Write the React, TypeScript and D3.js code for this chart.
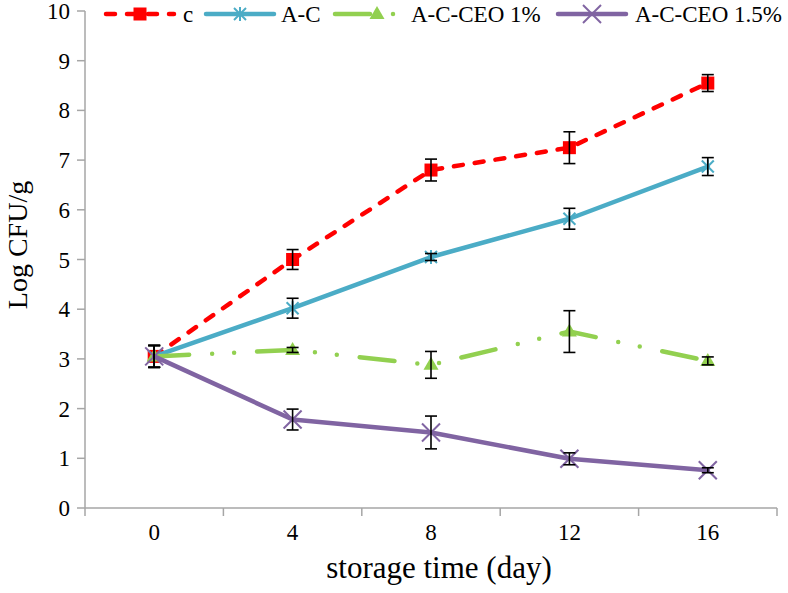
import React from "react";
import * as d3 from "d3";

const days = ["0", "4", "8", "12", "16"];
const yTicks = [0, 1, 2, 3, 4, 5, 6, 7, 8, 9, 10];
const seriesNames = ["c", "A-C", "A-C-CEO 1%", "A-C-CEO 1.5%"];
const cValues = [3.05, 5.0, 6.8, 7.25, 8.55];
const cErrors = [0.22, 0.2, 0.22, 0.32, 0.17];
const acValues = [3.05, 4.02, 5.05, 5.82, 6.87];
const acErrors = [0.22, 0.2, 0.07, 0.21, 0.18];
const ceo1Values = [3.05, 3.18, 2.88, 3.55, 2.96];
const ceo1Errors = [0.22, 0.05, 0.27, 0.42, 0.08];
const ceo15Values = [3.05, 1.78, 1.52, 0.99, 0.76];
const ceo15Errors = [0.22, 0.21, 0.33, 0.12, 0.05];

const W = 788, H = 593;
const left = 85, right = 777, top = 11, bottom = 508;
const font = "'Liberation Serif', 'Times New Roman', serif";
const axisColor = "#a6a6a6";

type S = { name: string; values: number[]; errors: number[]; color: string; dash: string; marker: string };
const series: S[] = [
  { name: seriesNames[0], values: cValues, errors: cErrors, color: "#ff0000", dash: "9 12", marker: "square" },
  { name: seriesNames[1], values: acValues, errors: acErrors, color: "#4bacc6", dash: "", marker: "asterisk" },
  { name: seriesNames[2], values: ceo1Values, errors: ceo1Errors, color: "#92d050", dash: "35 23 0 22 0 23", marker: "triangle" },
  { name: seriesNames[3], values: ceo15Values, errors: ceo15Errors, color: "#8064a2", dash: "", marker: "x" },
];

function Marker({ kind, x, y, color }: { kind: string; x: number; y: number; color: string }) {
  if (kind === "square") return <rect x={x - 6.5} y={y - 6.5} width={13} height={13} fill={color} />;
  if (kind === "triangle") return <path d={`M${x},${y - 8}L${x + 7.5},${y + 5}L${x - 7.5},${y + 5}Z`} fill={color} />;
  if (kind === "asterisk")
    return (
      <g stroke={color} strokeWidth={2}>
        <line x1={x - 6} y1={y - 6} x2={x + 6} y2={y + 6} />
        <line x1={x - 6} y1={y + 6} x2={x + 6} y2={y - 6} />
        <line x1={x} y1={y - 7} x2={x} y2={y + 7} />
      </g>
    );
  return (
    <g stroke={color} strokeWidth={2}>
      <line x1={x - 9} y1={y - 9} x2={x + 9} y2={y + 9} />
      <line x1={x - 9} y1={y + 9} x2={x + 9} y2={y - 9} />
    </g>
  );
}

export default function App() {
  const x = d3.scalePoint<string>().domain(days).range([left, right]).padding(0.5);
  const band = d3.scaleBand<string>().domain(days).range([left, right]);
  const y = d3.scaleLinear().domain([0, 10]).range([bottom, top]);
  const line = d3
    .line<number>()
    .x((_, i) => x(days[i])!)
    .y((d) => y(d));

  const legendItems = [
    { x0: 106, text: 183 },
    { x0: 206, text: 281 },
    { x0: 335, text: 411 },
    { x0: 558, text: 635 },
  ];
  const ly = 14;

  const boundaries = [...days.map((d) => band(d)!), right];

  return (
    <svg width={W} height={H} style={{ position: "absolute", left: 0, top: 0, background: "#fff" }}>
      <line x1={left} y1={top} x2={left} y2={bottom} stroke={axisColor} strokeWidth={1.5} />
      <line x1={left} y1={bottom} x2={right} y2={bottom} stroke={axisColor} strokeWidth={1.5} />
      {yTicks.map((t) => (
        <g key={t}>
          <line x1={left - 8} x2={left} y1={y(t)} y2={y(t)} stroke={axisColor} strokeWidth={1.5} />
          <text x={left - 15} y={y(t)} dy="0.35em" textAnchor="end" fontFamily={font} fontSize={23} fill="#000">
            {t}
          </text>
        </g>
      ))}
      {boundaries.map((b, i) => (
        <line key={i} x1={b} x2={b} y1={bottom} y2={bottom + 8} stroke={axisColor} strokeWidth={1.5} />
      ))}
      {days.map((d) => (
        <text key={d} x={x(d)} y={540} textAnchor="middle" fontFamily={font} fontSize={23} fill="#000">
          {d}
        </text>
      ))}
      <text x={439} y={578} textAnchor="middle" fontFamily={font} fontSize={31} fill="#000">
        storage time (day)
      </text>
      <text
        transform={`translate(27,245) rotate(-90)`}
        textAnchor="middle"
        fontFamily={font}
        fontSize={28}
        fill="#000"
      >
        Log CFU/g
      </text>

      {series.map((s) => (
        <g key={s.name}>
          <path
            d={line(s.values)!}
            fill="none"
            stroke={s.color}
            strokeWidth={4.5}
            strokeDasharray={s.dash || undefined}
            strokeLinecap="round"
            strokeLinejoin="round"
          />
          {s.values.map((v, i) => (
            <Marker key={i} kind={s.marker} x={x(days[i])!} y={y(v)} color={s.color} />
          ))}
        </g>
      ))}
      {series.map((s) =>
        s.values.map((v, i) => {
          const cx = x(days[i])!;
          const y1 = y(v + s.errors[i]);
          const y2 = y(v - s.errors[i]);
          return (
            <g key={s.name + i} stroke="#000" strokeWidth={1.6}>
              <line x1={cx} x2={cx} y1={y1} y2={y2} />
              <line x1={cx - 6} x2={cx + 6} y1={y1} y2={y1} />
              <line x1={cx - 6} x2={cx + 6} y1={y2} y2={y2} />
            </g>
          );
        })
      )}

      {series.map((s, i) => {
        const it = legendItems[i];
        const x0 = it.x0;
        const x1 = x0 + 68;
        return (
          <g key={s.name}>
            <line
              x1={x0}
              x2={x1}
              y1={ly}
              y2={ly}
              stroke={s.color}
              strokeWidth={4.5}
              strokeDasharray={s.dash || undefined}
              strokeLinecap="round"
            />
            <Marker kind={s.marker} x={(x0 + x1) / 2 + (s.marker === "triangle" ? 8 : 0)} y={ly} color={s.color} />
            <text x={it.text} y={ly} dy="0.35em" fontFamily={font} fontSize={23} fill="#000">
              {s.name}
            </text>
          </g>
        );
      })}
    </svg>
  );
}
